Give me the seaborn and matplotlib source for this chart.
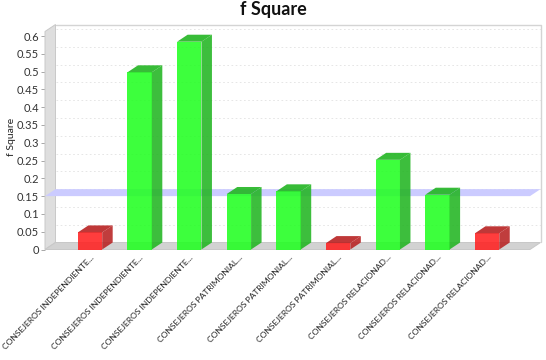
import matplotlib
matplotlib.use("Agg")
import matplotlib.pyplot as plt
from matplotlib.patches import Polygon
import pandas as pd
import seaborn as sns

# ─── Data ─────────────────────────────────────────────────────────────────────
categories = ["CONSEJEROS INDEPENDIENTE...", "CONSEJEROS INDEPENDIENTE ...", "CONSEJEROS INDEPENDIENTE....",
              "CONSEJEROS PATRIMONIAL...", "CONSEJEROS PATRIMONIAL ...", "CONSEJEROS PATRIMONIAL....",
              "CONSEJEROS RELACIONAD...", "CONSEJEROS RELACIONAD ...", "CONSEJEROS RELACIONAD...."]
tick_text = ["CONSEJEROS INDEPENDIENTE..."] * 3 + ["CONSEJEROS PATRIMONIAL..."] * 3 + ["CONSEJEROS RELACIONAD..."] * 3
values = [0.048, 0.498, 0.584, 0.156, 0.1635, 0.018, 0.252, 0.154, 0.0455]
threshold = 0.15
y_ticks = [0, 0.05, 0.1, 0.15, 0.2, 0.25, 0.3, 0.35, 0.4, 0.45, 0.5, 0.55, 0.6]
y_labels = ["0", "0.05", "0.1", "0.15", "0.2", "0.25", "0.3", "0.35", "0.4", "0.45", "0.5", "0.55", "0.6"]

# ─── Config ───────────────────────────────────────────────────────────────────
W, H = 546, 360
DX, DY = 10.5 / 49.6, 7 / 355.8      # fake 3D depth in data units
X0, X1 = -0.907, 8.865               # front face of the plot
Y_TOP = 0.6127
FONT = ["Lato", "DejaVu Sans"]

sns.set_theme(style="white")
plt.rcParams["font.family"] = FONT

df = pd.DataFrame({"cat": categories, "val": values})
df["group"] = ["pass" if v >= threshold else "fail" for v in values]

fig = plt.figure(figsize=(W / 100, H / 100), dpi=100)
ax = fig.add_axes([45 / W, 1 - 249.5 / H, 495.5 / W, 225 / H])
sns.barplot(data=df, x="cat", y="val", hue="group", dodge=False, legend=False,
            palette={"pass": "#22ff22", "fail": "#ff2222"}, width=0.49,
            alpha=0.88, linewidth=0, saturation=1, ax=ax, zorder=5)
ax.set_xlim(X0, X1 + DX)
ax.set_ylim(0, Y_TOP + DY)
sns.despine(ax=ax, left=True, bottom=True)

# walls and floor
ax.add_patch(Polygon([(X0, 0), (X0 + DX, DY), (X0 + DX, Y_TOP + DY), (X0, Y_TOP)],
                     fc="#dedede", ec="#c8c8c8", lw=0.7, zorder=1, clip_on=False))
ax.add_patch(Polygon([(X0, 0), (X1, 0), (X1 + DX, DY), (X0 + DX, DY)],
                     fc="#d2d2d2", ec="#c8c8c8", lw=0.7, zorder=1, clip_on=False))
ax.plot([X0 + DX, X1 + DX, X1 + DX], [Y_TOP + DY, Y_TOP + DY, DY], color="#d4d4d4", lw=1, zorder=1, clip_on=False)

# grid on the back wall
for t in y_ticks:
    if t > 0:
        ax.plot([X0 + DX, X1 + DX], [t + DY, t + DY], color="#e2e2e2", lw=0.6, ls=(0, (2, 3)), zorder=1)

# threshold band
ax.add_patch(Polygon([(X0, threshold), (X1, threshold), (X1 + DX, threshold + DY), (X0 + DX, threshold + DY)],
                     fc="#cbcbff", ec="none", zorder=2))

# side and top of each bar, taken from the bars seaborn drew
for bar in list(ax.patches):
    if not hasattr(bar, "get_width") or bar.get_zorder() != 5:
        continue
    x, w, h = bar.get_x(), bar.get_width(), bar.get_height()
    if h <= 0:
        continue
    is_pass = h >= threshold
    dark = "#22b522" if is_pass else "#b82222"
    ax.add_patch(Polygon([(x + w, 0), (x + w + DX, DY), (x + w + DX, h + DY), (x + w, h)],
                         fc=dark, alpha=0.88, ec="none", zorder=5))
    ax.add_patch(Polygon([(x, h), (x + w, h), (x + w + DX, h + DY), (x + DX, h + DY)],
                         fc=dark, alpha=0.9, ec="none", zorder=5))

ax.set_yticks(y_ticks)
ax.set_yticklabels(y_labels, fontsize=8, color="#333333")
ax.set_xticks(range(len(categories)))
ax.set_xticklabels(tick_text, fontsize=6.1, color="#222222", rotation=46, ha="right",
                   va="top", rotation_mode="anchor")
ax.tick_params(axis="y", length=3, width=0.6, color="#999999", pad=1.5, left=True)
ax.tick_params(axis="x", length=0, pad=3)
ax.set_xlabel("")
ax.set_ylabel("")
ax.grid(False)

fig.text(12 / W, 1 - 137 / H, "f Square", fontsize=7.5, rotation=90, ha="center", va="center", color="#222222")
fig.text(273 / W, 1 - 10 / H, "f Square", fontsize=13, fontweight="bold", ha="center", va="center", color="#111111")

fig.savefig("out.png", dpi=100, facecolor="white")
